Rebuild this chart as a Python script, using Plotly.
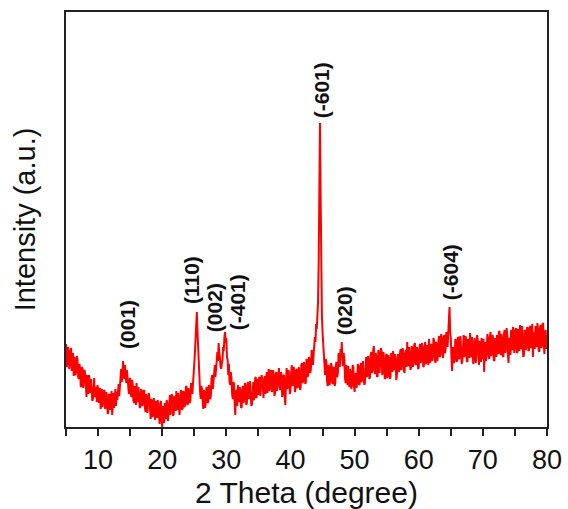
import numpy as np
import plotly.graph_objects as go

# XRD scan: 2-theta from 5 to 80 degrees, 0.1 degree step
two_theta = np.round(np.arange(5.0, 80.0001, 0.1), 1)

# Intensity (a.u.), one row per 2 degrees
intensity = [
    83, 60, 63, 80, 75, 58, 63, 77, 79, 56, 62, 74, 51, 70, 67, 52, 57, 71, 67, 50,
    48, 63, 58, 41, 40, 60, 58, 39, 46, 57, 52, 36, 30, 52, 45, 33, 52, 41, 34, 48,
    40, 26, 28, 44, 49, 30, 31, 40, 25, 42, 38, 24, 32, 39, 18, 35, 38, 20, 25, 36,
    37, 18, 21, 35, 29, 13, 15, 33, 32, 17, 23, 36, 12, 28, 34, 19, 32, 38, 21, 35,
    27, 40, 43, 31, 38, 52, 58, 45, 62, 66, 51, 48, 62, 55, 44, 57, 51, 39, 33, 46,
    49, 33, 30, 47, 43, 27, 24, 41, 38, 22, 44, 29, 25, 40, 33, 19, 20, 38, 36, 21,
    24, 36, 37, 19, 15, 33, 30, 14, 22, 34, 30, 11, 8, 28, 26, 10, 13, 29, 21, 7,
    26, 12, 9, 27, 20, 5, 3, 24, 26, 8, 0, 21, 17, 4, 24, 11, 8, 27, 23, 6,
    14, 30, 32, 12, 19, 33, 29, 11, 13, 31, 28, 16, 36, 20, 17, 34, 27, 12, 21, 37,
    35, 17, 19, 36, 33, 20, 25, 41, 40, 22, 23, 39, 34, 24, 27, 44, 42, 33, 49, 56,
    63, 74, 87, 108, 115, 96, 75, 62, 53, 36, 28, 41, 38, 20, 18, 37, 34, 19, 25, 40,
    39, 24, 26, 42, 40, 28, 32, 49, 52, 38, 47, 60, 62, 50, 57, 70, 75, 66, 84, 74,
    70, 60, 58, 64, 67, 80, 76, 90, 95, 84, 89, 70, 67, 52, 63, 45, 42, 55, 49, 33,
    28, 45, 43, 22, 12, 35, 37, 21, 42, 27, 25, 40, 34, 19, 20, 39, 41, 24, 30, 44,
    40, 22, 24, 43, 45, 28, 30, 46, 38, 21, 23, 44, 45, 27, 30, 49, 50, 29, 34, 48,
    32, 49, 50, 31, 38, 52, 47, 30, 29, 48, 51, 33, 45, 55, 34, 50, 58, 36, 40, 57,
    56, 35, 38, 57, 50, 31, 34, 53, 55, 36, 44, 58, 59, 40, 37, 55, 53, 30, 33, 51,
    52, 30, 22, 45, 59, 38, 41, 57, 50, 33, 36, 54, 62, 41, 43, 60, 56, 35, 39, 57,
    58, 39, 41, 60, 53, 37, 40, 62, 64, 44, 47, 65, 60, 43, 45, 68, 67, 50, 55, 70,
    66, 54, 59, 77, 75, 62, 73, 88, 90, 85, 103, 98, 115, 125, 165, 240, 304, 235, 150, 112,
    95, 84, 75, 60, 52, 68, 65, 46, 41, 62, 59, 42, 47, 64, 62, 45, 43, 60, 59, 41,
    45, 63, 65, 50, 55, 74, 72, 60, 78, 70, 85, 66, 61, 74, 67, 49, 44, 62, 59, 42,
    61, 43, 40, 58, 54, 38, 42, 62, 60, 41, 35, 52, 54, 39, 45, 63, 60, 42, 43, 61,
    64, 45, 47, 66, 57, 42, 44, 68, 70, 50, 52, 71, 66, 48, 50, 72, 75, 54, 57, 77,
    81, 57, 53, 74, 69, 50, 51, 77, 73, 54, 62, 79, 76, 52, 56, 75, 67, 48, 49, 72,
    73, 49, 53, 72, 65, 48, 50, 74, 69, 55, 76, 59, 57, 73, 65, 47, 52, 70, 73, 55,
    58, 75, 78, 57, 62, 79, 73, 56, 54, 74, 77, 60, 85, 66, 61, 80, 73, 57, 60, 81,
    79, 60, 66, 82, 84, 63, 62, 80, 76, 58, 59, 78, 83, 64, 69, 84, 80, 60, 61, 79,
    85, 63, 65, 82, 76, 62, 88, 70, 64, 83, 82, 66, 72, 89, 86, 68, 64, 85, 84, 66,
    71, 88, 91, 70, 75, 93, 89, 72, 69, 90, 92, 74, 78, 95, 92, 80, 99, 108, 120, 96,
    89, 70, 56, 78, 80, 64, 69, 88, 86, 65, 67, 90, 89, 68, 70, 91, 81, 63, 66, 87,
    92, 70, 72, 91, 87, 66, 65, 88, 83, 69, 94, 73, 70, 90, 80, 63, 67, 89, 84, 64,
    73, 92, 87, 64, 62, 86, 83, 65, 89, 70, 68, 88, 55, 79, 85, 66, 74, 93, 89, 70,
    68, 90, 95, 71, 74, 92, 88, 67, 66, 89, 84, 70, 92, 74, 73, 95, 96, 75, 72, 93,
    88, 71, 70, 94, 97, 74, 80, 99, 92, 73, 64, 88, 89, 72, 97, 78, 77, 100, 96, 74,
    80, 97, 99, 74, 75, 98, 93, 76, 102, 80, 78, 101, 89, 70, 72, 97, 96, 77, 82, 100,
    98, 76, 77, 100, 101, 79, 82, 103, 70, 90, 95, 78, 101, 80, 81, 104, 98, 77, 75, 99,
    102, 79, 81, 103, 104, 82, 73, 95, 97, 78, 84,
]

# Reflection labels (Miller indices) and where they sit
peak_labels = ["(001)", "(110)", "(002)", "(-401)", "(-601)", "(020)", "(-604)"]
label_x = [14.5, 24.5, 28.1, 31.7, 44.8, 48.4, 64.9]
label_y = [103, 147, 119, 125, 337, 116, 155]

x_ticks = [5, 10, 15, 20, 25, 30, 35, 40, 45, 50, 55, 60, 65, 70, 75, 80]
x_tick_text = ["", "10", "", "20", "", "30", "", "40", "", "50", "", "60", "", "70", "", "80"]

font_family = "Liberation Sans, Arial, sans-serif"

fig = go.Figure()
fig.add_trace(go.Scatter(
    x=two_theta, y=intensity, mode="lines",
    line=dict(color="#ff0000", width=2),
    showlegend=False,
))

for txt, lx, ly in zip(peak_labels, label_x, label_y):
    fig.add_annotation(
        x=lx, y=ly, xref="x", yref="y", text="<b>" + txt + "</b>",
        textangle=-90, showarrow=False, xanchor="center", yanchor="middle",
        font=dict(family=font_family, size=21, color="#111111"),
    )

fig.update_layout(
    width=568, height=509,
    margin=dict(l=66, r=21, t=12, b=82),
    paper_bgcolor="white", plot_bgcolor="white",
    font=dict(family=font_family, color="#111111"),
)
fig.update_xaxes(
    range=[5, 80], tickmode="array", tickvals=x_ticks, ticktext=x_tick_text,
    ticks="outside", ticklen=7, tickwidth=1.5, tickcolor="#222222",
    ticklabelstandoff=1, automargin=False,
    showline=True, linecolor="#222222", linewidth=1.5, mirror=True,
    showgrid=False, zeroline=False,
    tickfont=dict(size=27),
    title=dict(text="2 Theta (degree)", font=dict(size=30), standoff=10),
)
fig.update_yaxes(
    range=[0, 415], showticklabels=False, ticks="", automargin=False,
    showline=True, linecolor="#222222", linewidth=1.5, mirror=True,
    showgrid=False, zeroline=False,
    title=dict(text="Intensity (a.u.)", font=dict(size=29), standoff=20),
)

fig.write_html("out.html")
